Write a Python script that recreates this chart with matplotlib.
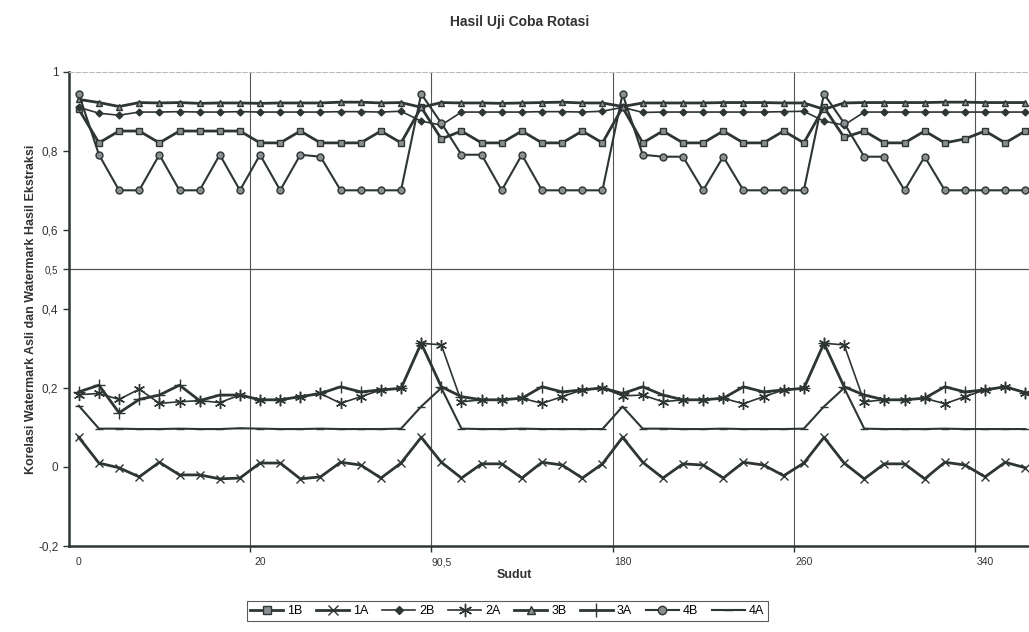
import matplotlib.pyplot as plt
import numpy as np

plt.rcParams["font.family"] = ["Liberation Sans", "DejaVu Sans"]

# --- data (48 rotation steps visible) ---
tick_idx = [0, 9, 18, 27, 36, 45]
tick_labels = ["0", "20", "90,5", "180", "260", "340"]

s_1B = [0.905, 0.82, 0.85, 0.85, 0.82, 0.85, 0.85, 0.85, 0.85, 0.82, 0.82, 0.85,
        0.82, 0.82, 0.82, 0.85, 0.82, 0.91, 0.83, 0.85, 0.82, 0.82, 0.85, 0.82,
        0.82, 0.85, 0.82, 0.91, 0.82, 0.85, 0.82, 0.82, 0.85, 0.82, 0.82, 0.85,
        0.82, 0.91, 0.834, 0.85, 0.82, 0.82, 0.85, 0.82, 0.83, 0.85, 0.82, 0.85]
s_1A = [0.075, 0.01, -0.002, -0.025, 0.012, -0.02, -0.02, -0.03, -0.028, 0.01, 0.01, -0.03,
        -0.025, 0.012, 0.005, -0.028, 0.01, 0.075, 0.012, -0.028, 0.008, 0.008, -0.028, 0.012,
        0.005, -0.028, 0.008, 0.075, 0.012, -0.028, 0.008, 0.005, -0.028, 0.012, 0.005, -0.022,
        0.01, 0.075, 0.01, -0.03, 0.008, 0.008, -0.03, 0.012, 0.005, -0.025, 0.012, -0.002]
s_2B = [0.91, 0.895, 0.89, 0.898, 0.898, 0.899, 0.898, 0.898, 0.899, 0.898, 0.898, 0.898,
        0.898, 0.899, 0.899, 0.898, 0.9, 0.875, 0.865, 0.898, 0.898, 0.898, 0.898, 0.899,
        0.899, 0.898, 0.9, 0.91, 0.897, 0.898, 0.898, 0.898, 0.898, 0.898, 0.898, 0.899,
        0.9, 0.875, 0.865, 0.898, 0.898, 0.898, 0.898, 0.898, 0.898, 0.898, 0.898, 0.898]
s_2A = [0.183, 0.186, 0.171, 0.197, 0.161, 0.165, 0.168, 0.163, 0.182, 0.17, 0.17, 0.178,
        0.186, 0.161, 0.178, 0.195, 0.199, 0.313, 0.309, 0.165, 0.17, 0.17, 0.174, 0.161,
        0.178, 0.195, 0.2, 0.18, 0.182, 0.165, 0.17, 0.17, 0.174, 0.16, 0.178, 0.195,
        0.199, 0.313, 0.309, 0.165, 0.17, 0.17, 0.174, 0.16, 0.178, 0.195, 0.203, 0.188]
s_3B = [0.93, 0.922, 0.912, 0.922, 0.921, 0.922, 0.92, 0.921, 0.921, 0.92, 0.921, 0.921,
        0.921, 0.923, 0.923, 0.921, 0.922, 0.91, 0.922, 0.921, 0.921, 0.92, 0.921, 0.922,
        0.923, 0.921, 0.921, 0.912, 0.921, 0.921, 0.921, 0.921, 0.922, 0.922, 0.922, 0.921,
        0.921, 0.905, 0.921, 0.922, 0.922, 0.922, 0.922, 0.923, 0.923, 0.922, 0.922, 0.922]
s_3A = [0.19, 0.207, 0.137, 0.171, 0.182, 0.207, 0.168, 0.182, 0.182, 0.17, 0.17, 0.178,
        0.186, 0.203, 0.19, 0.195, 0.199, 0.313, 0.203, 0.178, 0.17, 0.17, 0.174, 0.203,
        0.19, 0.195, 0.2, 0.186, 0.203, 0.182, 0.17, 0.17, 0.174, 0.203, 0.19, 0.195,
        0.199, 0.313, 0.203, 0.182, 0.17, 0.17, 0.174, 0.203, 0.19, 0.195, 0.203, 0.188]
s_4B = [0.944, 0.79, 0.70, 0.70, 0.79, 0.70, 0.70, 0.79, 0.70, 0.79, 0.70, 0.79,
        0.785, 0.70, 0.70, 0.70, 0.70, 0.944, 0.87, 0.79, 0.79, 0.70, 0.79, 0.70,
        0.70, 0.70, 0.70, 0.944, 0.79, 0.785, 0.785, 0.70, 0.785, 0.70, 0.70, 0.70,
        0.70, 0.944, 0.87, 0.785, 0.785, 0.70, 0.785, 0.70, 0.70, 0.70, 0.70, 0.70]
s_4A = [0.155, 0.097, 0.097, 0.096, 0.096, 0.097, 0.096, 0.096, 0.098, 0.097, 0.096, 0.096,
        0.097, 0.096, 0.096, 0.096, 0.097, 0.153, 0.2, 0.097, 0.096, 0.096, 0.097, 0.096,
        0.096, 0.096, 0.096, 0.153, 0.097, 0.097, 0.096, 0.096, 0.097, 0.096, 0.096, 0.096,
        0.097, 0.153, 0.2, 0.097, 0.096, 0.096, 0.096, 0.097, 0.096, 0.096, 0.096, 0.096]

x = np.arange(len(s_1B))
ink = "#2e3535"

fig = plt.figure(figsize=(10.29, 6.32), dpi=100)
ax = fig.add_axes([0.0668, 0.136, 1.0 - 0.0668, 0.7505])

# series: (label, values, marker, markersize, fill, linewidth)
series = [
    ("1B", s_1B, "s", 5, "#8a8f8f", 2.0),
    ("1A", s_1A, "x", 6, ink, 2.0),
    ("2B", s_2B, "D", 3.5, ink, 1.2),
    ("2A", s_2A, (6, 2, 0), 8, ink, 1.2),
    ("3B", s_3B, "^", 5, "#8a8f8f", 2.0),
    ("3A", s_3A, "+", 8, ink, 2.0),
    ("4B", s_4B, "o", 5, "#8a8f8f", 1.5),
    ("4A", s_4A, "_", 6, ink, 1.5),
]
for name, vals, mk, ms, fc, lw in series:
    ax.plot(x, vals, color=ink, lw=lw, marker=mk, ms=ms, mfc=fc, mec=ink,
            mew=1.0, label=name)

ax.set_xlim(-0.5, 47.18)
ax.set_ylim(-0.2, 1.0)

# category gridlines between categories
for g in [8.5, 17.5, 26.5, 35.5, 44.5]:
    ax.axvline(g, color="#555555", lw=0.8, zorder=0)
ax.axhline(0.5, color="#555555", lw=0.9, zorder=0)

ax.set_xticks(tick_idx)
ax.set_xticklabels(tick_labels, fontsize=7.5, color="#333333")
ax.set_xticks([8.5, 17.5, 26.5, 35.5, 44.5], minor=True)
ax.tick_params(axis="x", which="major", length=0, pad=8)
ax.tick_params(axis="x", which="minor", length=4, width=1, color=ink)

yt = [-0.2, 0, 0.2, 0.4, 0.5, 0.6, 0.8, 1.0]
ax.set_yticks(yt)
ax.set_yticklabels(["-0,2", "0", "0,2", "0,4", "0,5", "0,6", "0,8", "1"], fontsize=8.5)
ax.get_yticklabels()[4].set_fontsize(7)
ax.tick_params(axis="y", length=4, width=1, color=ink, labelcolor="#333333")

ax.spines["right"].set_visible(False)
ax.spines["top"].set_color("#bbbbbb")
ax.spines["top"].set_linewidth(0.8)
ax.spines["top"].set_linestyle((0, (4, 2)))
ax.spines["left"].set_color(ink)
ax.spines["left"].set_linewidth(1.8)
ax.spines["bottom"].set_color(ink)
ax.spines["bottom"].set_linewidth(1.8)

fig.text(0.505, 0.965, "Hasil Uji Coba Rotasi", ha="center", va="center",
         fontsize=10, fontweight="bold", color="#333333")
fig.text(0.50, 0.09, "Sudut", ha="center", va="center",
         fontsize=9, fontweight="bold", color="#333333")
fig.text(0.03, 0.51, "Korelasi Watermark Asli dan Watermark Hasil Ekstraksi",
         ha="center", va="center", rotation=90, fontsize=9, fontweight="bold",
         color="#333333")

leg = fig.legend(loc="center", bbox_to_anchor=(0.493, 0.033), ncol=8,
                 frameon=True, fancybox=False, fontsize=9, handlelength=2.6,
                 handletextpad=0.35, columnspacing=1.1, borderpad=0.3,
                 markerscale=1.2)
leg.get_frame().set_edgecolor("#333333")
leg.get_frame().set_linewidth(0.8)

fig.savefig("out.png", dpi=100)
